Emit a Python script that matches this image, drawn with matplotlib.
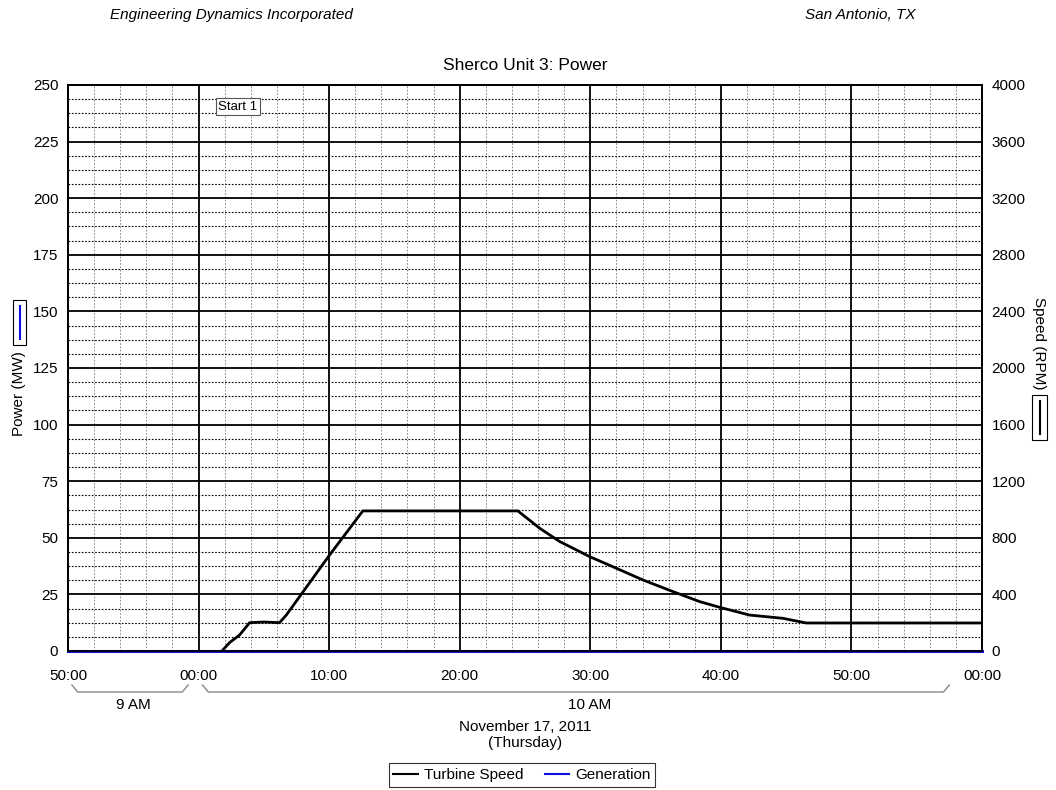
import matplotlib
matplotlib.use("Agg")
import matplotlib.pyplot as plt
from matplotlib.lines import Line2D
from matplotlib.patches import Rectangle
from matplotlib.ticker import MultipleLocator
import matplotlib.transforms as mtransforms

# time axis: minutes after 9:00 AM
minute_ticks = [-10, 0, 10, 20, 30, 40, 50, 60]
minute_labels = ["50:00", "00:00", "10:00", "20:00", "30:00", "40:00", "50:00", "00:00"]

# turbine speed (RPM)
speed_t = [1.8, 1.86, 2.37, 3.14, 3.91, 5.0, 6.2, 6.72, 10.03, 12.58, 24.45, 26.12, 27.65,
           29.95, 31.99, 34.03, 36.33, 38.38, 39.9, 42.2, 44.75, 46.54, 60.0]
speed_rpm = [0, 7, 59, 113, 200, 205, 200, 254, 678, 990, 990, 868, 774,
             667, 585, 502, 420, 349, 309, 254, 231, 198, 198]

# generation (MW)
gen_t = [-10, 60]
gen_mw = [0, 0]

plt.rcParams["font.family"] = ["Liberation Sans", "DejaVu Sans"]
plt.rcParams["font.size"] = 11

W, H = 1056, 790
fig = plt.figure(figsize=(W / 100, H / 100), dpi=100)
ax = fig.add_axes([68 / W, 1 - 651 / H, (982 - 68) / W, (651 - 85) / H])
ax2 = ax.twinx()

ax.set_xlim(-10, 60)
ax.set_ylim(0, 250)
ax2.set_ylim(0, 4000)

ax.set_xticks(minute_ticks)
ax.set_xticklabels(minute_labels)
ax.xaxis.set_minor_locator(MultipleLocator(2))
ax.yaxis.set_major_locator(MultipleLocator(25))
ax.yaxis.set_minor_locator(MultipleLocator(6.25))
ax2.yaxis.set_major_locator(MultipleLocator(400))

ax.grid(which="major", color="black", lw=1.3, ls="-")
ax.grid(which="minor", axis="y", color="black", lw=0.8, ls=(0, (1.5, 1.5)))
ax.grid(which="minor", axis="x", color="#777777", lw=0.6, ls=(0, (2, 2)))
ax.set_axisbelow(True)

ax.tick_params(which="both", length=0)
ax.tick_params(axis="x", pad=13)
ax.tick_params(axis="y", pad=7)
ax2.tick_params(length=0, pad=7)
for a in (ax, ax2):
    for s in a.spines.values():
        s.set_linewidth(1.3)
        s.set_color("black")

ax2.plot(speed_t, speed_rpm, color="black", lw=2, zorder=3)
ax.plot(gen_t, gen_mw, color="#1010e0", lw=2.2, clip_on=False, zorder=4)

# "Start 1" event marker
ax.text(3.0, 240.5, "Start 1", ha="center", va="center", fontsize=9.5,
        bbox=dict(boxstyle="square,pad=0.2", fc="white", ec="#555555", lw=0.8))

# title and header
fig.text(525 / W, 1 - 65 / H, "Sherco Unit 3: Power", ha="center", va="center", fontsize=12.5)
fig.text(231 / W, 1 - 15 / H, "Engineering Dynamics Incorporated", ha="center", va="center",
         fontsize=11, style="italic")
fig.text(860 / W, 1 - 15 / H, "San Antonio, TX", ha="center", va="center",
         fontsize=11, style="italic")

# hour brackets under the time axis
trans = mtransforms.blended_transform_factory(ax.transData, ax.transAxes)
ytop, ybot = (651 - 685) / 566, (651 - 692) / 566
def bracket(x0, x1):
    ax.plot([x0, x0 + 0.45, x1 - 0.45, x1], [ytop, ybot, ybot, ytop], transform=trans,
            color="#888888", lw=1, clip_on=False)
bracket(-9.7, -0.8)
bracket(0.3, 57.5)
fig.text(133 / W, 1 - 705 / H, "9 AM", ha="center", va="center")
fig.text(590 / W, 1 - 705 / H, "10 AM", ha="center", va="center")
fig.text(525 / W, 1 - 727 / H, "November 17, 2011", ha="center", va="center")
fig.text(525 / W, 1 - 743 / H, "(Thursday)", ha="center", va="center")

# axis labels with little series keys
fig.text(19 / W, 1 - 394 / H, "Power (MW)", rotation=90, ha="center", va="center")
fig.add_artist(Rectangle((13 / W, 1 - 345 / H), 13 / W, 45 / H, fill=False, ec="black",
                         lw=0.8, transform=fig.transFigure))
fig.add_artist(Line2D([19.5 / W, 19.5 / W], [1 - 339 / H, 1 - 306 / H], color="#1010e0",
                      lw=1.5, transform=fig.transFigure))
fig.text(1039 / W, 1 - 343 / H, "Speed (RPM)", rotation=-90, ha="center", va="center")
fig.add_artist(Rectangle((1032 / W, 1 - 440 / H), 15 / W, 45 / H, fill=False, ec="black",
                         lw=0.8, transform=fig.transFigure))
fig.add_artist(Line2D([1039.5 / W, 1039.5 / W], [1 - 434 / H, 1 - 401 / H], color="black",
                      lw=1.5, transform=fig.transFigure))

handles = [Line2D([], [], color="black", lw=1.5), Line2D([], [], color="#1010e0", lw=1.5)]
leg = fig.legend(handles, ["Turbine Speed", "Generation"], loc="center", ncol=2,
                 bbox_to_anchor=(522 / W, 1 - 775 / H), fancybox=False, edgecolor="black",
                 handlelength=1.6, handletextpad=0.4, columnspacing=1.4, borderpad=0.3,
                 fontsize=11)
leg.get_frame().set_linewidth(0.8)

fig.savefig("out.png", dpi=100, facecolor="white")
